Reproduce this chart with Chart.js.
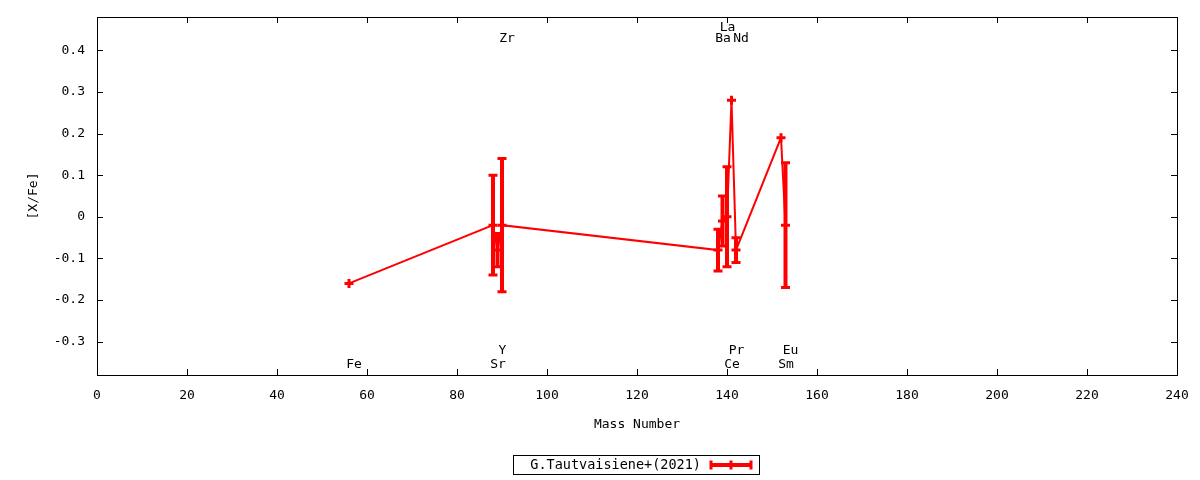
<!DOCTYPE html>
<html lang="en">
<head>
  <meta charset="UTF-8">
  <title>[X/Fe] vs Mass Number</title>
  <style>
    html, body {
      margin: 0;
      padding: 0;
      background: #ffffff;
    }
    #wrap {
      width: 1200px;
      height: 480px;
    }
  </style>
</head>
<body>

<div id="wrap"><canvas id="abundChart"></canvas></div>

<script src="https://cdn.jsdelivr.net/npm/chart.js"></script>
<script>
  // values
  const elements = ['Fe', 'Sr', 'Y', 'Zr', 'Ba', 'La', 'Ce', 'Pr', 'Nd', 'Sm', 'Eu'];
  const massNumber = [56, 88, 89, 90, 138, 139, 140, 141, 142, 152, 153];
  const xFe = [-0.16, -0.02, -0.08, -0.02, -0.08, -0.01, 0.00, 0.28, -0.08, 0.19, -0.02];
  const xFeErr = [0, 0.12, 0.04, 0.16, 0.05, 0.06, 0.12, 0, 0.03, 0, 0.15];
  const yTicks = [-0.3, -0.2, -0.1, 0, 0.1, 0.2, 0.3, 0.4];
  const seriesLabel = 'G.Tautvaisiene+(2021)';

  const RED = '#ff0000';
  const FONT = "'DejaVu Sans Mono', monospace";

  // where each element name sits: b = below the data, t = above; 1 = inner row, 2 = outer row
  const labelRows = {
    b1: -0.355, b2: -0.322, t1: 0.428, t2: 0.455
  };
  const labelPlace = ['b1', 'b1', 'b2', 't1', 't1', 't2', 'b1', 'b2', 't1', 'b1', 'b2'];

  const gnuplotFrame = {
    id: 'gnuplotFrame',
    beforeDatasetsDraw(chart) {
      const ctx = chart.ctx;
      const xs = chart.scales.x;
      const ys = chart.scales.y;
      const area = chart.chartArea;
      ctx.save();

      // frame
      ctx.strokeStyle = '#000';
      ctx.lineWidth = 1;
      ctx.strokeRect(Math.round(area.left) + 0.5, Math.round(area.top) + 0.5,
        Math.round(area.right - area.left), Math.round(area.bottom - area.top));

      // inward ticks on all four sides
      ctx.beginPath();
      xs.ticks.forEach(t => {
        const px = Math.round(xs.getPixelForValue(t.value)) + 0.5;
        ctx.moveTo(px, area.bottom);
        ctx.lineTo(px, area.bottom - 6);
        ctx.moveTo(px, area.top);
        ctx.lineTo(px, area.top + 6);
      });
      ys.ticks.forEach(t => {
        const py = Math.round(ys.getPixelForValue(t.value)) + 0.5;
        ctx.moveTo(area.left, py);
        ctx.lineTo(area.left + 6, py);
        ctx.moveTo(area.right, py);
        ctx.lineTo(area.right - 6, py);
      });
      ctx.stroke();

      // error bars
      ctx.strokeStyle = RED;
      massNumber.forEach((m, i) => {
        if (!xFeErr[i]) return;
        const px = xs.getPixelForValue(m);
        const top = ys.getPixelForValue(xFe[i] + xFeErr[i]);
        const bot = ys.getPixelForValue(xFe[i] - xFeErr[i]);
        ctx.lineWidth = 4;
        ctx.beginPath();
        ctx.moveTo(px, top);
        ctx.lineTo(px, bot);
        ctx.stroke();
        ctx.lineWidth = 3;
        ctx.beginPath();
        ctx.moveTo(px - 4.5, top);
        ctx.lineTo(px + 4.5, top);
        ctx.moveTo(px - 4.5, bot);
        ctx.lineTo(px + 4.5, bot);
        ctx.stroke();
      });
      ctx.restore();
    },
    afterDraw(chart) {
      const ctx = chart.ctx;
      const xs = chart.scales.x;
      const ys = chart.scales.y;
      ctx.save();

      // element names
      ctx.fillStyle = '#000';
      ctx.font = '13px ' + FONT;
      ctx.textAlign = 'center';
      ctx.textBaseline = 'middle';
      elements.forEach((el, i) => {
        const px = xs.getPixelForValue(massNumber[i]) + 5;
        const py = ys.getPixelForValue(labelRows[labelPlace[i]]);
        ctx.fillText(el, px, py);
      });

      // legend box
      ctx.strokeStyle = '#000';
      ctx.lineWidth = 1;
      ctx.strokeRect(513.5, 455.5, 246, 19);
      ctx.textAlign = 'right';
      ctx.font = '13.5px ' + FONT;
      ctx.fillText(seriesLabel, 701, 465);

      ctx.strokeStyle = RED;
      ctx.lineWidth = 4;
      ctx.beginPath();
      ctx.moveTo(710, 465);
      ctx.lineTo(752, 465);
      ctx.stroke();
      ctx.lineWidth = 3;
      ctx.beginPath();
      [711, 731, 751].forEach(x => {
        ctx.moveTo(x, 460.5);
        ctx.lineTo(x, 469.5);
      });
      ctx.stroke();
      ctx.restore();
    }
  };

  const ctx = document.getElementById('abundChart').getContext('2d');

  new Chart(ctx, {
    type: 'line',
    data: {
      datasets: [{
        label: seriesLabel,
        data: massNumber.map((m, i) => ({ x: m, y: xFe[i] })),
        borderColor: RED,
        backgroundColor: RED,
        borderWidth: 2,
        pointStyle: 'cross',
        pointRadius: 4.5,
        pointBorderWidth: 3,
        pointBorderColor: RED,
        tension: 0,
        fill: false
      }]
    },
    options: {
      responsive: true,
      maintainAspectRatio: false,
      animation: false,
      layout: {
        padding: { top: 17, right: 23, bottom: 45, left: 0 }
      },
      plugins: {
        legend: { display: false },
        tooltip: { enabled: false }
      },
      scales: {
        x: {
          type: 'linear',
          min: 0,
          max: 240,
          border: { display: false },
          grid: { display: false, drawTicks: false },
          ticks: {
            stepSize: 20,
            padding: 13,
            color: '#000',
            font: { family: FONT, size: 13 },
            maxRotation: 0
          },
          title: {
            display: true,
            text: 'Mass Number',
            color: '#000',
            font: { family: FONT, size: 13 },
            padding: { top: 0, bottom: 3 }
          },
          afterFit(scale) {
            scale.height = 60;
            scale.paddingLeft = 0;
            scale.paddingRight = 0;
          }
        },
        y: {
          type: 'linear',
          min: -0.38,
          max: 0.48,
          border: { display: false },
          grid: { display: false, drawTicks: false },
          afterBuildTicks(scale) {
            scale.ticks = yTicks.map(v => ({ value: v }));
          },
          ticks: {
            padding: 12,
            color: '#000',
            font: { family: FONT, size: 13 },
            callback: v => String(Math.round(v * 10) / 10)
          },
          title: {
            display: true,
            text: '[X/Fe]',
            color: '#000',
            font: { family: FONT, size: 13 },
            padding: { top: 26, bottom: 0 }
          },
          afterFit(scale) {
            scale.width = 97;
            scale.paddingTop = 0;
            scale.paddingBottom = 0;
          }
        }
      }
    },
    plugins: [gnuplotFrame]
  });
</script>

</body>
</html>
